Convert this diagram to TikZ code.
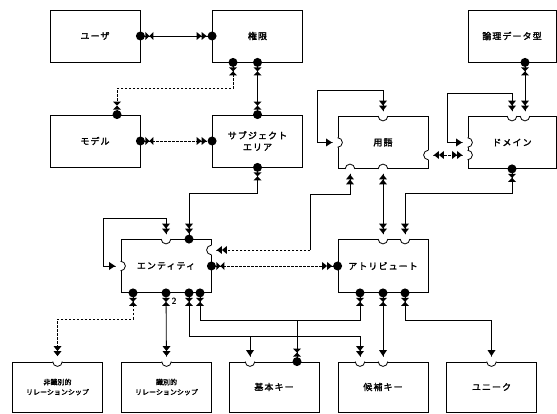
\documentclass[tikz,border=0pt]{standalone}
\usepackage{fontspec}
\newfontfamily\jp{Noto Sans CJK JP}[LetterSpace=12, FakeBold=2]
\newfontfamily\jpn{Noto Sans CJK JP}[FakeBold=2]
\usetikzlibrary{calc}
\tikzset{
  box/.style={draw, line width=0.8pt, minimum width=90pt, minimum height=52pt, inner sep=0pt, align=center,
    font={\jp\fontsize{9pt}{11.5pt}\selectfont}},
  smallbox/.style={box, font={\jpn\fontsize{7pt}{10pt}\selectfont}},
  conn/.style={line width=0.8pt},
  dconn/.style={line width=0.8pt, dash pattern=on 2.5pt off 1.5pt},
}
\newcommand\mkDot{\fill (0,0) circle[radius=4.5];}
\newcommand\mkNotch{\fill[white] (0,0) circle[radius=5]; \draw[line width=0.8pt] (0,4.8) arc[start angle=90, end angle=270, radius=4.8];}
\newcommand\mkBow{\fill (5,4) -- (5,-4) -- (9,0) -- cycle; \fill (9,0) -- (13,4) -- (13,-4) -- cycle;}
\newcommand\mkOne{\fill (5.5,0) -- (11.5,4) -- (11.5,-4) -- cycle;}
\newcommand\mkTwo{\fill (5.5,0) -- (10.5,4) -- (10.5,-4) -- cycle; \fill (10.5,0) -- (15.5,4) -- (15.5,-4) -- cycle;}
\newcommand\mkDA{\mkDot\mkBow}
\newcommand\mkDB{\mkDot\mkTwo}
\newcommand\mkNA{\mkNotch\mkOne}
\newcommand\mkNB{\mkNotch\mkTwo}
\newcommand\mk[3]{\begin{scope}[shift={(#1)}, rotate=#2, x=1pt, y=1pt]\csname mk#3\endcsname\end{scope}}
\begin{document}
\begin{tikzpicture}[x=1pt, y=-1pt]
\useasboundingbox[fill=white] (0,0) rectangle (557,414);
% boxes
\node[box] (user) at (95,36) {ユーザ};
\node[box] (ken) at (257.5,36) {権限};
\node[box] (model) at (95,141) {モデル};
\node[box] (subj) at (257.5,141) {サブジェクト\\エリア};
\node[box, minimum width=88pt] (ronri) at (512,36) {論理データ型};
\node[box] (yogo) at (383,142.5) {用語};
\node[box, minimum width=88pt] (domain) at (512,142.5) {ドメイン};
\node[box, minimum height=53pt] (entity) at (166,266) {エンティティ};
\node[box, minimum height=53pt] (attr) at (383,266) {アトリビュート};
\node[smallbox, minimum height=50pt] (hishiki) at (57.5,387) {非識別的\\リレーションシップ};
\node[smallbox, minimum height=50pt] (shiki) at (166.5,387) {識別的\\リレーションシップ};
\node[box, minimum height=50pt] (kihon) at (274,387) {基本キー};
\node[box, minimum height=50pt] (kouho) at (383,387) {候補キー};
\node[box, minimum height=50pt] (unique) at (491.5,387) {ユニーク};
\node[font={\sffamily\bfseries\fontsize{9pt}{10pt}\selectfont}] (two) at (174,301) {2};
% ports
\coordinate (kenB1) at ([xshift=-24.5pt]ken.south);
\coordinate (modT) at ([xshift=22pt]model.north);
\coordinate (entT2) at ([xshift=23pt]entity.north);
\coordinate (entR1) at ([yshift=16pt]entity.east);
\coordinate (entB1) at ([xshift=-33pt]entity.south);
\coordinate (entB3) at ([xshift=23pt]entity.south);
\coordinate (entB4) at ([xshift=34pt]entity.south);
\coordinate (yogoR) at ([yshift=-12.5pt]yogo.east);
\coordinate (yogoB1) at ([xshift=-33pt]yogo.south);
\coordinate (domT2) at ([xshift=13pt]domain.north);
\coordinate (domL2) at ([yshift=-12.5pt]domain.west);
\coordinate (ronriB) at ([xshift=13pt]ronri.south);
\coordinate (attrT2) at ([xshift=22pt]attr.north);
\coordinate (attrB1) at ([xshift=-23pt]attr.south);
\coordinate (attrB3) at ([xshift=22pt]attr.south);
\coordinate (kihT1) at ([xshift=-24pt]kihon.north);
\coordinate (kihT2) at ([xshift=23pt]kihon.north);
\coordinate (kouT1) at ([xshift=-23pt]kouho.north);
% loop corners
\coordinate (eloop) at (103,218);
\coordinate (yloop) at (317,90);
\coordinate (dloop) at (447,93);
\coordinate (ecorner) at (310,194);
% connectors
\draw[conn] (user.east) -- (ken.west);
\draw[dconn] (kenB1) -- ++(0,26) -| (modT);
\draw[conn] (ken.south) -- (subj.north);
\draw[dconn] (model.east) -- (subj.west);
\draw[conn] (subj.south) -- ++(0,26) -| (entT2);
\draw[conn] (entity.north) |- (eloop) |- (entity.west);
\draw[conn] (yogo.north) |- (yloop) |- (yogo.west);
\draw[conn] (domain.north) |- (dloop) |- (domain.west);
\draw[conn] (ronriB) -- (domT2);
\draw[dconn] (yogoR) -- (domL2);
\draw[conn] (domain.south) -- ++(0,25) -| (attrT2);
\draw[conn] (yogo.south) -- (attr.north);
\draw[conn] (yogoB1) |- (ecorner) -- (ecorner |- entR1);
\draw[dconn] (ecorner |- entR1) -- (entR1);
\draw[dconn] (entity.east) -- (attr.west);
\draw[conn] (entity.south) -- (shiki.north);
\draw[dconn] (entB1) -- ++(0,26) -| (hishiki.north);
\draw[conn] (entB3) -- ++(0,43) -| (kihT1);
\draw[conn] (entB3) -- ++(0,43) -| (kouT1);
\draw[conn] (entB4) -- ++(0,27) -| (kihT2);
\draw[conn] (attrB1) -- ++(0,27) -| (kihT2);
\draw[conn] (attr.south) -- (kouho.north);
\draw[conn] (attrB3) -- ++(0,27) -| (unique.north);
% end marks
\mk{user.east}{0}{DA}
\mk{ken.west}{180}{DB}
\mk{kenB1}{270}{DA}
\mk{modT}{90}{DA}
\mk{ken.south}{270}{DA}
\mk{subj.north}{90}{DA}
\mk{model.east}{0}{DA}
\mk{subj.west}{180}{DB}
\mk{subj.south}{270}{DA}
\mk{entT2}{90}{DB}
\mk{entity.north}{90}{NB}
\mk{entity.west}{180}{NA}
\mk{entR1}{0}{NB}
\mk{entity.east}{0}{DA}
\mk{yogo.north}{90}{NB}
\mk{yogo.west}{180}{NA}
\mk{yogoR}{0}{NB}
\mk{yogoB1}{270}{NB}
\mk{yogo.south}{270}{NB}
\mk{domain.north}{90}{NB}
\mk{domT2}{90}{NB}
\mk{domain.west}{180}{NA}
\mk{domL2}{180}{NB}
\mk{domain.south}{270}{DA}
\mk{ronriB}{270}{DA}
\mk{attr.north}{90}{NB}
\mk{attrT2}{90}{NB}
\mk{attr.west}{180}{DB}
\mk{attrB1}{270}{DA}
\mk{attr.south}{270}{DA}
\mk{attrB3}{270}{DA}
\mk{entB1}{270}{DA}
\mk{entity.south}{270}{DA}
\mk{entB3}{270}{DA}
\mk{entB4}{270}{DA}
\mk{hishiki.north}{90}{NB}
\mk{shiki.north}{90}{NB}
\mk{kihT1}{90}{NA}
\mk{kihT2}{90}{DA}
\mk{kouT1}{90}{NB}
\mk{kouho.north}{90}{NA}
\mk{unique.north}{90}{NA}
\end{tikzpicture}
\end{document}
